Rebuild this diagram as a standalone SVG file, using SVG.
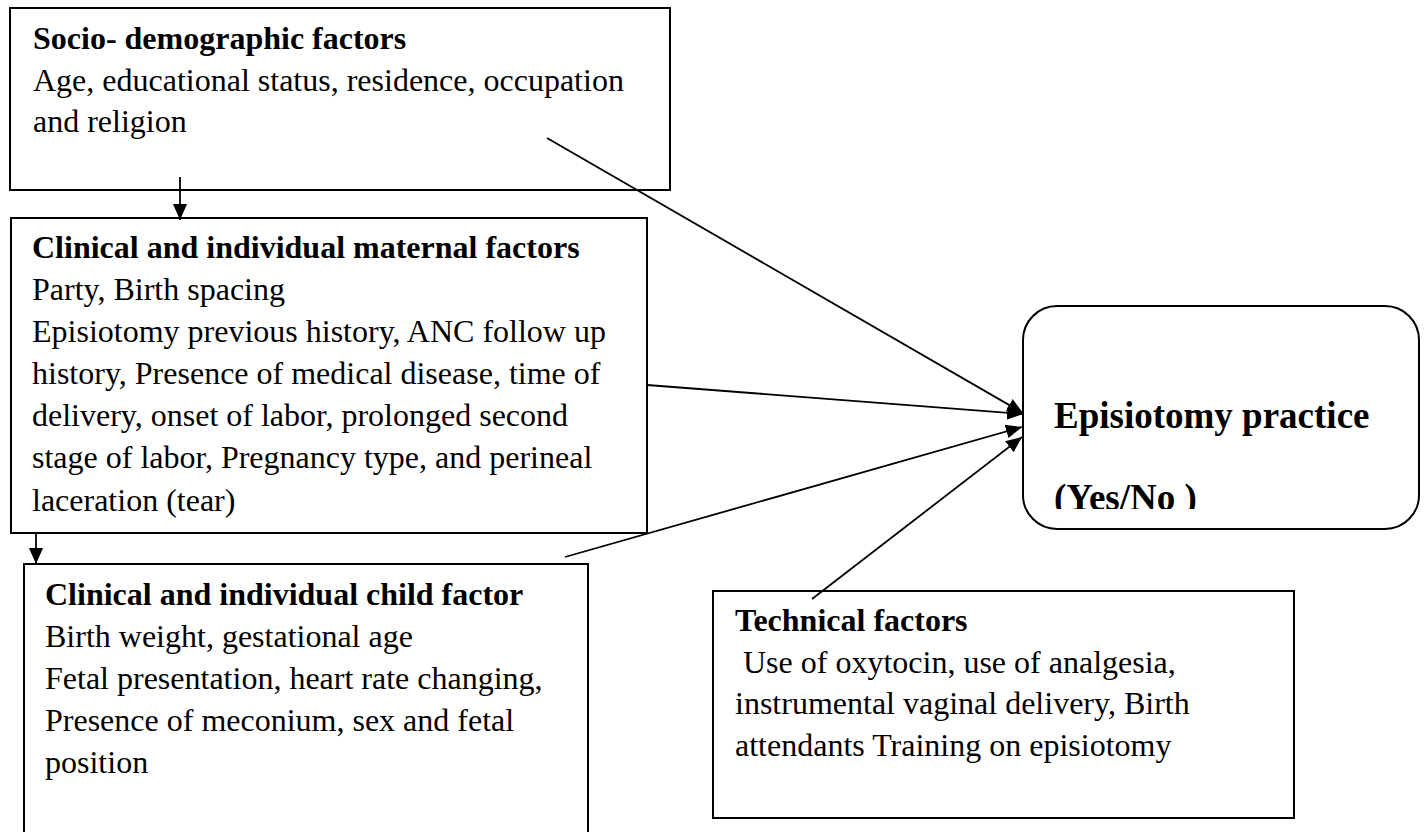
<svg xmlns="http://www.w3.org/2000/svg" width="1427" height="832" viewBox="0 0 1427 832">
<style>
.box{fill:#fff;stroke:#000;stroke-width:2}
.t{font-family:'Liberation Serif','Times New Roman',Times,serif;font-size:32px;fill:#000}
.b{font-weight:bold}
.big{font-family:'Liberation Serif','Times New Roman',Times,serif;font-size:37px;font-weight:bold;fill:#000}
.c{fill:none;stroke:#000;stroke-width:1.8}
</style>
<defs>
<marker id="ah" markerUnits="userSpaceOnUse" markerWidth="18" markerHeight="18" viewBox="0 0 18 18" refX="16" refY="9" orient="auto">
<path d="M0,2 L16,9 L0,16 Z" fill="#000"/>
</marker>
<clipPath id="epclip"><rect x="1023" y="306" width="396" height="203"/></clipPath>
</defs>
<rect width="1427" height="832" fill="#fff"/>
<g id="socio">
<rect class="box" x="10" y="8" width="660" height="182"/>
<text class="t b" x="33" y="49">Socio- demographic factors</text>
<text class="t" x="33" y="91">Age, educational status, residence, occupation</text>
<text class="t" x="33" y="132">and religion</text>
</g>
<g id="maternal">
<rect class="box" x="11" y="218" width="636" height="315"/>
<text class="t b" x="32" y="258">Clinical and individual maternal factors</text>
<text class="t" x="32" y="300">Party, Birth spacing</text>
<text class="t" x="32" y="342">Episiotomy previous history, ANC follow up</text>
<text class="t" x="32" y="384">history, Presence of medical disease, time of</text>
<text class="t" x="32" y="426">delivery, onset of labor, prolonged second</text>
<text class="t" x="32" y="468">stage of labor, Pregnancy type, and perineal</text>
<text class="t" x="32" y="511">laceration (tear)</text>
</g>
<g id="child">
<rect class="box" x="24" y="564" width="564" height="300"/>
<text class="t b" x="45" y="605">Clinical and individual child factor</text>
<text class="t" x="45" y="647">Birth weight, gestational age</text>
<text class="t" x="45" y="689">Fetal presentation, heart rate changing,</text>
<text class="t" x="45" y="731">Presence of meconium, sex and fetal</text>
<text class="t" x="45" y="773">position</text>
</g>
<g id="technical">
<rect class="box" x="713" y="591" width="581" height="227"/>
<text class="t b" x="735" y="631">Technical factors</text>
<text class="t" x="743" y="673">Use of oxytocin, use of analgesia,</text>
<text class="t" x="735" y="714">instrumental vaginal delivery, Birth</text>
<text class="t" x="735" y="756">attendants Training on episiotomy</text>
</g>
<g id="episiotomy">
<rect class="box" x="1023" y="306" width="396" height="223" rx="34" ry="34"/>
<g clip-path="url(#epclip)">
<text class="big" x="1054" y="428">Episiotomy practice</text>
<text class="big" x="1054" y="510">(Yes/No )</text>
</g>
</g>
<g id="connectors">
<line class="c" x1="180" y1="177" x2="180" y2="220" marker-end="url(#ah)"/>
<line class="c" x1="36" y1="533" x2="36" y2="564" marker-end="url(#ah)"/>
<line class="c" x1="547" y1="138" x2="1023" y2="413" marker-end="url(#ah)"/>
<line class="c" x1="647" y1="385" x2="1023" y2="414" marker-end="url(#ah)"/>
<line class="c" x1="565" y1="557" x2="1022" y2="427" marker-end="url(#ah)"/>
<line class="c" x1="812" y1="599" x2="1022" y2="437" marker-end="url(#ah)"/>
</g>
</svg>
